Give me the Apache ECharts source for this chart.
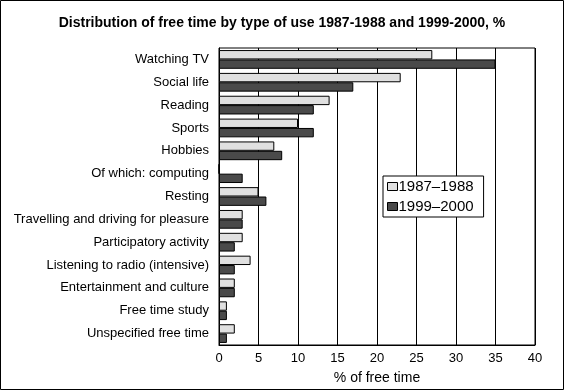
<!DOCTYPE html>
<html><head><meta charset="utf-8">
<script src="https://cdn.jsdelivr.net/npm/echarts@6/dist/echarts.min.js"></script>
<style>html,body{margin:0;padding:0;background:#fff}#c{width:564px;height:390px}</style>
</head><body><div id="c"></div>
<script>
const categories = ["Watching TV","Social life","Reading","Sports","Hobbies","Of which: computing","Resting","Travelling and driving for pleasure","Participatory activity","Listening to radio (intensive)","Entertainment and culture","Free time study","Unspecified free time"];
const series1987 = [27,23,14,10,7,0,5,3,3,4,2,1,2];
const series1999 = [35,17,12,12,8,3,6,3,2,2,2,1,1];
const xTicks = [0,5,10,15,20,25,30,35,40];
const ff = "Liberation Sans, Arial, sans-serif";
const chart = echarts.init(document.getElementById('c'), null, {renderer:'canvas'});
chart.setOption({
  animation:false,
  backgroundColor:'#fff',
  title:{text:'Distribution of free time by type of use 1987-1988 and 1999-2000, %',left:'center',top:11,
    textStyle:{fontFamily:"Liberation Sans Narrow, Arial Narrow, Liberation Sans, sans-serif",fontWeight:'bold',fontSize:14,color:'#000'}},
  graphic:[{type:'rect',shape:{x:0.5,y:0.5,width:563,height:389},style:{fill:null,stroke:'#000',lineWidth:1},silent:true}],
  legend:{orient:'vertical',left:383,top:176,padding:[3,10,3,4],itemGap:5,itemWidth:10,itemHeight:8,
    borderColor:'#000',borderWidth:1,backgroundColor:'#fff',icon:'rect',
    textStyle:{fontFamily:ff,fontSize:15,color:'#000',padding:[0,0,0,-4]},
    data:[{name:'1987–1988',itemStyle:{borderColor:'#000',borderWidth:1}},{name:'1999–2000',itemStyle:{borderColor:'#000',borderWidth:1}}]},
  grid:{left:219,top:48,width:316,height:297,show:true,borderColor:'#000',borderWidth:1},
  xAxis:{type:'value',min:0,max:40,interval:5,
    axisLine:{show:true,lineStyle:{color:'#000'}},axisTick:{show:false},
    splitLine:{show:true,lineStyle:{color:'#000',width:1}},
    axisLabel:{fontFamily:ff,fontSize:13,color:'#000',margin:7,formatter:v=>xTicks.includes(v)?String(v):''},
    name:'% of free time',nameLocation:'middle',nameGap:26,nameTextStyle:{fontFamily:ff,fontSize:14,color:'#000'}},
  yAxis:{type:'category',data:categories,inverse:true,
    axisLine:{show:true,lineStyle:{color:'#000'}},axisTick:{show:false},
    axisLabel:{fontFamily:ff,fontSize:13,color:'#000',margin:10}},
  series:[
    {name:'1987–1988',type:'bar',data:series1987,barGap:'0%',barCategoryGap:'18%',
     itemStyle:{color:'#e0e0e0',borderColor:'#000',borderWidth:1}},
    {name:'1999–2000',type:'bar',data:series1999,barGap:'0%',barCategoryGap:'18%',
     itemStyle:{color:'#4a4a4a',borderColor:'#000',borderWidth:1}}
  ]
});
</script></body></html>
